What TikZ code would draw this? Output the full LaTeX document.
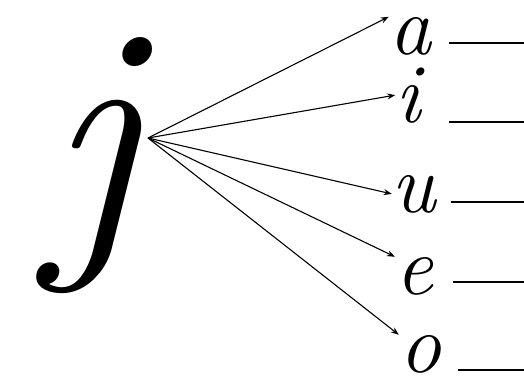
\documentclass[tikz,border=0pt]{standalone}
\usetikzlibrary{arrows.meta}

\begin{document}
\begin{tikzpicture}[
  x=1pt,y=-1pt,
  big/.style={inner sep=0pt,anchor=base,font=\fontsize{300}{300}\selectfont\itshape},
  vowel/.style={inner sep=0pt,anchor=base,font=\fontsize{84}{84}\selectfont\itshape},
  link/.style={line width=1.1pt,-{Stealth[length=8pt,width=6pt]}},
  blank/.style={line width=2.2pt}
]
  \useasboundingbox (0,0) rectangle (524,380);

  \node[big] (j) at (92,232) {j};
  \coordinate (src) at (148,138);

  \node[vowel] (a) at (410,54) {a};
  \node[vowel] (i) at (408,122) {i};
  \node[vowel] (u) at (414,212) {u};
  \node[vowel] (e) at (414,294) {e};
  \node[vowel] (o) at (420,372) {o};

  \draw[link] (src) -- (a.north west);
  \draw[link] (src) -- (i.west);
  \draw[link] (src) -- (u.west);
  \draw[link] (src) -- (e.north west);
  \draw[link] (src) -- (o.north west);

  \draw[blank] (449,43) -- (524,43);
  \draw[blank] (449,122) -- (524,122);
  \draw[blank] (451,202) -- (524,202);
  \draw[blank] (453,282) -- (524,282);
  \draw[blank] (458,370) -- (524,370);
\end{tikzpicture}
\end{document}
